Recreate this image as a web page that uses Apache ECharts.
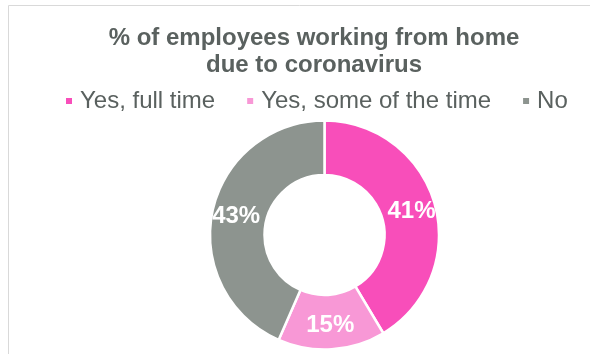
<!DOCTYPE html>
<html>
<head>
<meta charset="utf-8">
<script src="https://cdn.jsdelivr.net/npm/echarts@6/dist/echarts.min.js"></script>
<style>
html,body{margin:0;padding:0;background:#fff;}
#chart{width:590px;height:354px;}
</style>
</head>
<body>
<div id="chart"></div>
<script>
const titleText = "% of employees working from home\ndue to coronavirus";
const categories = ["Yes, full time", "Yes, some of the time", "No"];
const values = [41, 15, 43];
const colors = ["#F84EBA", "#F898D6", "#8D948F"];

const chart = echarts.init(document.getElementById('chart'), null, {renderer: 'canvas'});
chart.setOption({
  animation: false,
  color: colors,
  graphic: [{
    type: 'rect',
    shape: {x: 8.5, y: 5.5, width: 700, height: 500},
    style: {fill: 'none', stroke: '#D9D9D9', lineWidth: 1},
    silent: true, z: -1
  }],
  title: {
    text: titleText,
    left: 309,
    top: 20,
    textAlign: 'center',
    textStyle: {
      fontFamily: 'Liberation Sans, Arial, sans-serif',
      fontSize: 24,
      fontWeight: 'bold',
      color: '#5A615F',
      lineHeight: 27
    }
  },
  legend: {
    data: categories,
    left: 64,
    top: 89,
    icon: 'rect',
    itemWidth: 8,
    itemHeight: 8,
    itemGap: 30,
    padding: 0,
    textStyle: {
      fontFamily: 'Liberation Sans, Arial, sans-serif',
      fontSize: 24,
      color: '#5A615F',
      padding: [0, 0, 0, 2]
    }
  },
  series: [{
    type: 'pie',
    center: [324.5, 235],
    radius: [60, 114.5],
    startAngle: 90,
    clockwise: true,
    avoidLabelOverlap: false,
    itemStyle: {borderColor: '#FFFFFF', borderWidth: 2.5},
    label: {
      show: true,
      position: 'inside',
      formatter: '{c}%',
      color: '#FFFFFF',
      fontFamily: 'Liberation Sans, Arial, sans-serif',
      fontSize: 24,
      fontWeight: 'bold'
    },
    labelLine: {show: false},
    emphasis: {disabled: true},
    data: categories.map((c, i) => ({name: c, value: values[i]}))
  }]
});
</script>
</body>
</html>
